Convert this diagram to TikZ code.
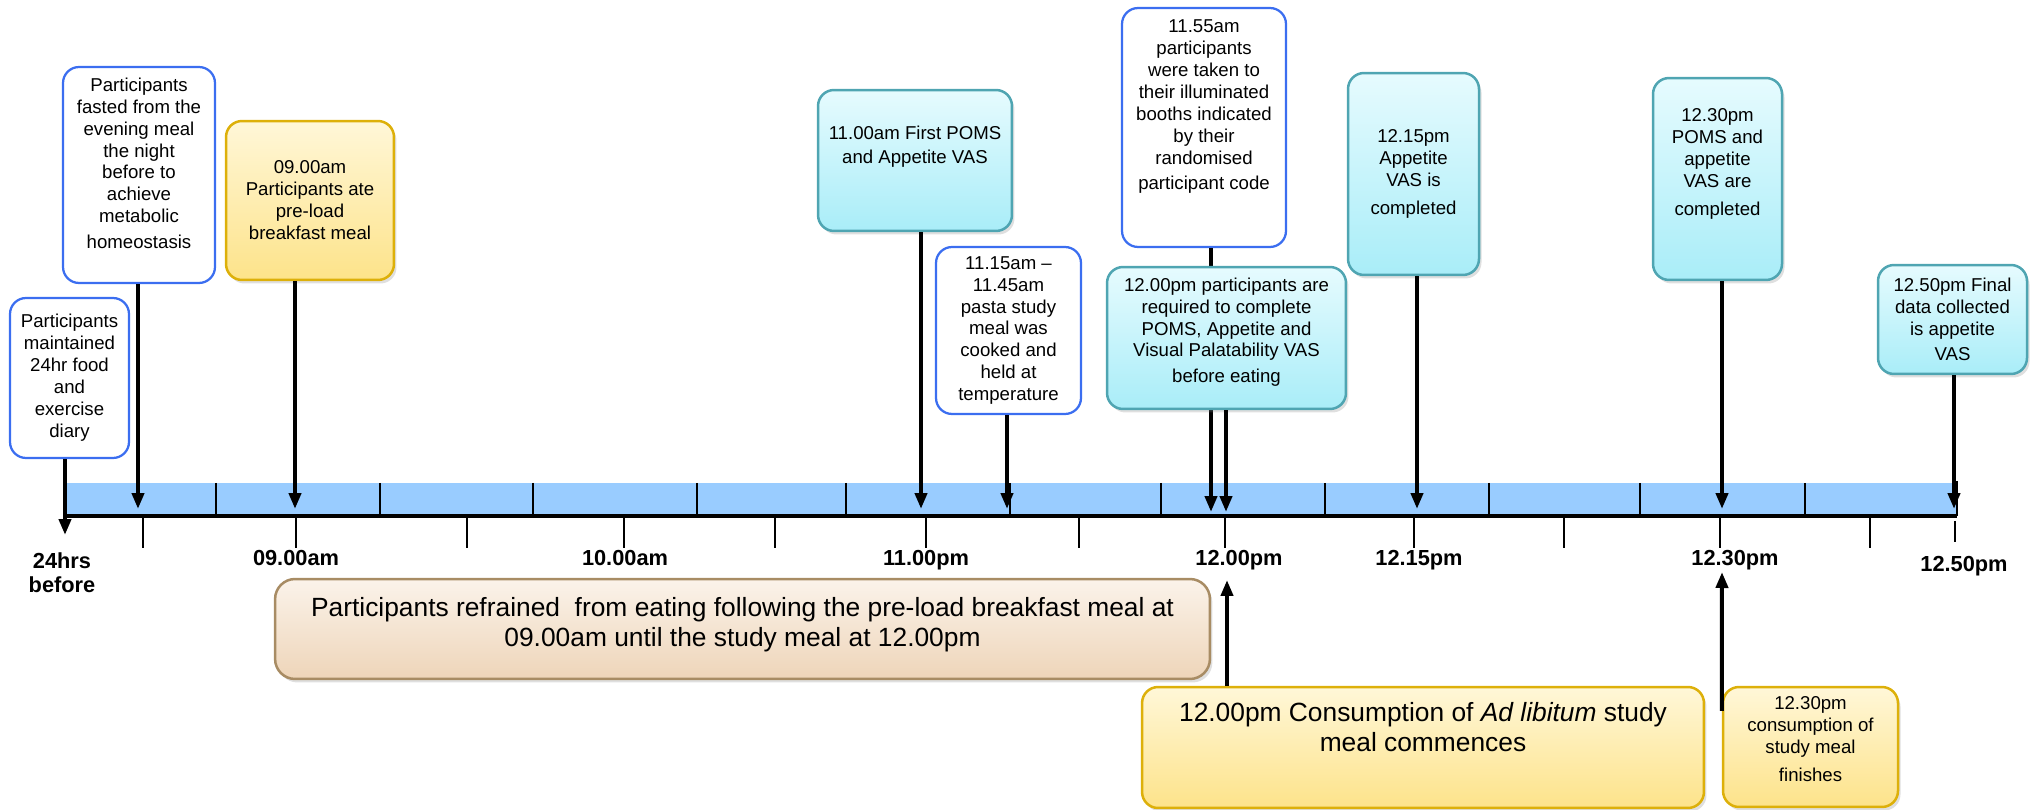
\documentclass[tikz,border=0pt]{standalone}
\usepackage{fontspec}
\setmainfont{Liberation Sans}
\usetikzlibrary{arrows.meta,shadows,positioning}

\definecolor{boxblue}{HTML}{3B6EF0}
\definecolor{cyantop}{HTML}{E6FBFE}
\definecolor{cyanbot}{HTML}{A9EDF8}
\definecolor{cyanline}{HTML}{4FA5B2}
\definecolor{goldtop}{HTML}{FFF7D8}
\definecolor{goldbot}{HTML}{FDE38A}
\definecolor{goldline}{HTML}{DDB00A}
\definecolor{tantop}{HTML}{FBF3EA}
\definecolor{tanbot}{HTML}{EED5B9}
\definecolor{tanline}{HTML}{A88C64}
\definecolor{barblue}{HTML}{99CCFF}

\tikzset{
  event/.style={rectangle, rounded corners=0.32cm, align=center, inner sep=2pt,
    font=\fontsize{10.6}{12.5}\selectfont},
  whitebox/.style={event, draw=boxblue, line width=0.045cm, fill=white},
  cyanbox/.style={event, draw=cyanline, line width=0.05cm,
    top color=cyantop, bottom color=cyanbot,
    drop shadow={opacity=0.25, shadow xshift=0.05cm, shadow yshift=-0.07cm}},
  goldbox/.style={event, draw=goldline, line width=0.05cm,
    top color=goldtop, bottom color=goldbot,
    drop shadow={opacity=0.25, shadow xshift=0.05cm, shadow yshift=-0.07cm}},
  tanbox/.style={event, rounded corners=0.4cm, draw=tanline, line width=0.05cm,
    top color=tantop, bottom color=tanbot, font=\fontsize{15}{17.2}\selectfont,
    drop shadow={opacity=0.25, shadow xshift=0.05cm, shadow yshift=-0.07cm}},
  timelabel/.style={font=\fontsize{12.4}{13.6}\selectfont\bfseries, anchor=base, align=center},
  pin/.style={line width=0.08cm, ->},
}

\begin{document}
\begin{tikzpicture}[x=0.02cm, y=-0.02cm, >={Triangle[length=0.32cm, width=0.24cm]}]
  \useasboundingbox (0,0) rectangle (2042,810);

  % time bar
  \fill[barblue] (65,483) rectangle (1957,516);
  \foreach \x in {216,380,533,697,846,1010,1161,1325,1489,1640,1805}
    \draw[line width=0.025cm] (\x,483) -- (\x,516);
  \foreach \x in {143,296,467,624,775,926,1079,1225,1414,1564,1720,1870}
    \draw[line width=0.03cm] (\x,516) -- (\x,548);
  \draw[line width=0.07cm] (65,516) -- (1957,516);
  \draw[line width=0.045cm] (1957,481) -- (1957,516);
  \draw[line width=0.025cm] (1955,521) -- (1955,542);

  % times
  \node (lbefore) [timelabel, anchor=center] at (62,573) {24hrs\\before};
  \node (lnine)    [timelabel] at (296,565) {09.00am};
  \node (lten)     [timelabel] at (625,565) {10.00am};
  \node (leleven)  [timelabel] at (926,565) {11.00pm};
  \node (ltwelve)  [timelabel] at (1239,565) {12.00pm};
  \node (lquarter) [timelabel] at (1419,565) {12.15pm};
  \node (lhalf)    [timelabel] at (1735,565) {12.30pm};
  \node (lend)     [timelabel] at (1964,572) {12.50pm};

  % where the arrows meet the bar
  \coordinate (tdiary) at (65,535);
  \coordinate (tfast) at (138,509);
  \coordinate (tbreak) at (295,509);
  \coordinate (tpoms) at (921,509);
  \coordinate (tpasta) at (1007,509);
  \coordinate (tbooth) at (1211,512);
  \coordinate (teat) at (1226,512);
  \coordinate (tvas) at (1417,509);
  \coordinate (thalf) at (1722,509);
  \coordinate (tfinal) at (1954,509);
  \coordinate (ueat) at (1227,580);
  \coordinate (uhalf) at (1722,572);

  % events above the bar
  \node (diary) [whitebox, minimum width=2.38cm, minimum height=3.2cm] at (69.5,378)
    {Participants\\maintained\\24hr food\\and\\exercise\\diary};
  \node (fasting) [whitebox, minimum width=3.04cm, minimum height=4.32cm] at (139,175)
    {Participants\\fasted from the\\evening meal\\the night\\before to\\achieve\\metabolic\\[2pt]homeostasis\\[0.04cm]};
  \node (breakfast) [goldbox, minimum width=3.36cm, minimum height=3.18cm] at (310,200.5)
    {09.00am\\Participants ate\\pre-load\\breakfast meal};
  \node (poms1) [cyanbox, minimum width=3.88cm, minimum height=2.82cm] at (915,160.5)
    {11.00am First POMS\\[1pt]and Appetite VAS\\[0.2cm]};
  \node (pasta) [whitebox, minimum width=2.9cm, minimum height=3.34cm] at (1008.5,330.5)
    {11.15am --\\11.45am\\pasta study\\meal was\\cooked and\\held at\\temperature};
  \node (booths) [whitebox, minimum width=3.28cm, minimum height=4.78cm] at (1204,127.5)
    {11.55am\\participants\\were taken to\\their illuminated\\booths indicated\\by their\\randomised\\[2pt]participant code\\[0.48cm]};

  \draw[pin] (diary.south -| tdiary) -- (tdiary);
  \draw[pin] (fasting.south -| tfast) -- (tfast);
  \draw[pin] (breakfast.south -| tbreak) -- (tbreak);
  \draw[pin] (poms1.south -| tpoms) -- (tpoms);
  \draw[pin] (pasta.south -| tpasta) -- (tpasta);
  \draw[pin] (booths.south -| tbooth) -- (tbooth);

  \node (preeat) [cyanbox, minimum width=4.78cm, minimum height=2.84cm] at (1226.5,338)
    {12.00pm participants are\\required to complete\\POMS, Appetite and\\Visual Palatability VAS\\[2pt]before eating\\[-0.12cm]};
  \node (vas15) [cyanbox, minimum width=2.62cm, minimum height=4.04cm] at (1413.5,174)
    {12.15pm\\Appetite\\VAS is\\[3pt]completed};
  \node (poms30) [cyanbox, minimum width=2.58cm, minimum height=4.04cm] at (1717.5,179)
    {12.30pm\\POMS and\\appetite\\VAS are\\[3pt]completed\\[0.24cm]};
  \node (final) [cyanbox, minimum width=2.98cm, minimum height=2.18cm] at (1952.5,319.5)
    {12.50pm Final\\data collected\\is appetite\\[2pt]VAS};

  \draw[pin] (preeat.south -| teat) -- (teat);
  \draw[pin] (vas15.south -| tvas) -- (tvas);
  \draw[pin] (poms30.south -| thalf) -- (thalf);
  \draw[pin] (final.south -| tfinal) -- (tfinal);

  % events below the bar
  \node (refrain) [tanbox, minimum width=18.7cm, minimum height=2cm] at (742.5,629)
    {Participants refrained\ \ from eating following the pre-load breakfast meal at\\09.00am until the study meal at 12.00pm\\[-0.33cm]};
  \node (adlib) [goldbox, font=\fontsize{15}{17.2}\selectfont, minimum width=11.24cm, minimum height=2.42cm] at (1423,747.5)
    {12.00pm Consumption of \textit{Ad libitum} study\\meal commences\\[0.23cm]};
  \node (finish) [goldbox, minimum width=3.5cm, minimum height=2.4cm] at (1810.5,747)
    {12.30pm\\consumption of\\study meal\\[3pt]finishes\\[-0.12cm]};

  \draw[pin] (adlib.north -| ueat) -- (ueat);
  \draw[pin] ([yshift=-0.5cm]finish.north west) -- (uhalf);
\end{tikzpicture}
\end{document}
